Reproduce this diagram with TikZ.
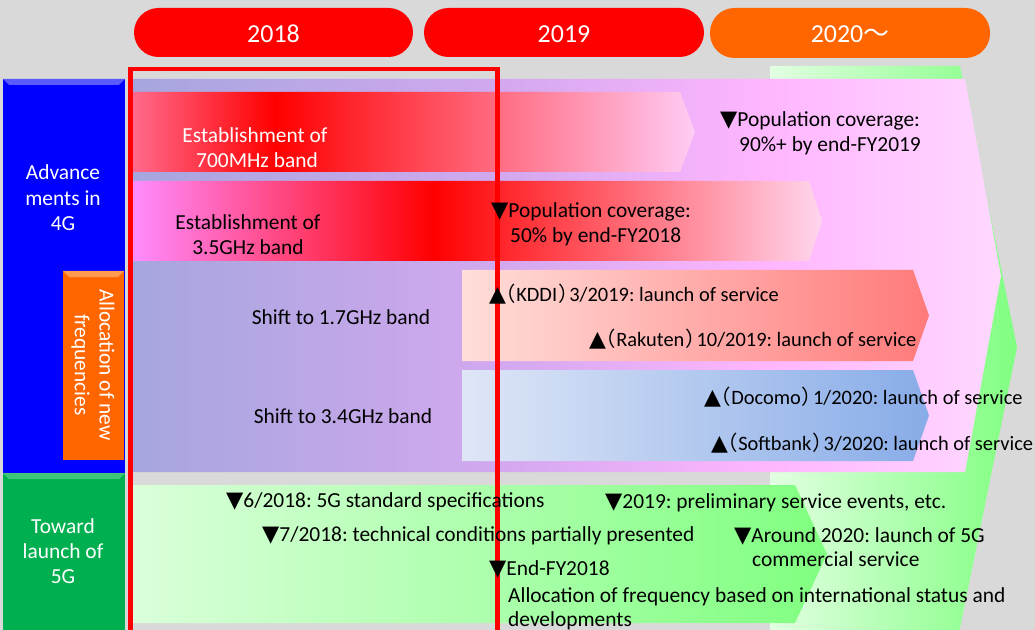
\documentclass[tikz,border=0pt]{standalone}
\usepackage{fontspec}
\setmainfont{Carlito}
\newfontfamily\symf{DejaVu Sans}
\newfontfamily\cjkf[RawFeature=+halt]{Noto Sans CJK JP}
\newcommand\dnt{{\symf\fontsize{22.5}{25}\selectfont ▼}}
\newcommand\upt{{\symf\fontsize{22}{25}\selectfont ▲}}
\newcommand\lp{{\cjkf （}}
\newcommand\rp{\kern1bp{\cjkf ）}\kern1bp}
\frenchspacing
\definecolor{bg}{HTML}{D9D9D9}
\definecolor{pillred}{HTML}{FF0000}
\definecolor{pillor}{HTML}{FF6600}
\definecolor{pk1}{HTML}{A6A6DE}
\definecolor{pk2}{HTML}{D2A8EE}
\definecolor{pk3}{HTML}{FFB6FF}
\definecolor{pk4}{HTML}{FFD8FF}
\definecolor{r1a}{HTML}{FF6A8C}
\definecolor{r1b}{HTML}{FF0000}
\definecolor{r1c}{HTML}{FFCCF4}
\definecolor{r2a}{HTML}{FF8CFF}
\definecolor{r2b}{HTML}{FF0000}
\definecolor{r2c}{HTML}{FFD6EE}
\definecolor{kd1}{HTML}{FFDEDA}
\definecolor{kd2}{HTML}{FF7A7A}
\definecolor{dc1}{HTML}{DEE6F6}
\definecolor{dc2}{HTML}{88ACE8}
\definecolor{g5a}{HTML}{DAFFDA}
\definecolor{g5b}{HTML}{80FF80}
\definecolor{gb1}{HTML}{E2FFE2}
\definecolor{gb2}{HTML}{80FF80}
\definecolor{bluebox}{HTML}{0000FF}
\definecolor{bluebev}{HTML}{5A5AFF}
\definecolor{greenbox}{HTML}{00B050}
\definecolor{greenbev}{HTML}{3CC878}
\definecolor{orbox}{HTML}{FF6600}
\definecolor{orbev}{HTML}{FF9A50}
\pgfdeclarehorizontalshading{pinkbig}{100bp}{color(0bp)=(pk1); color(25bp)=(pk1); color(46.1bp)=(pk2); color(61.7bp)=(pk3); color(75bp)=(pk4); color(100bp)=(pk4)}
\pgfdeclarehorizontalshading{rowone}{100bp}{color(0bp)=(r1a); color(25bp)=(r1a); color(37.6bp)=(r1b); color(75bp)=(r1c); color(100bp)=(r1c)}
\pgfdeclarehorizontalshading{rowtwo}{100bp}{color(0bp)=(r2a); color(25bp)=(r2a); color(46.8bp)=(r2b); color(75bp)=(r2c); color(100bp)=(r2c)}
\tikzset{
  lbl/.style={font=\fontsize{21.5}{25}\selectfont, inner sep=0pt, anchor=base},
  lblw/.style={lbl, text=white},
  lft/.style={lbl, anchor=base west},
  lftk/.style={lft, font=\fontsize{20.5}{25}\selectfont},
  yr/.style={font=\fontsize{26}{30}\selectfont, inner sep=0pt, anchor=base, text=white},
  pill/.style={rounded corners=24.5bp},
  redframe/.style={draw=red, line width=4.5bp},
}
\begin{document}
\frenchspacing
\begin{tikzpicture}[x=1bp,y=-1bp]
\useasboundingbox (0,0) rectangle (1035,630);
\begin{scope}
\clip (0,0) rectangle (1035,630);
\fill[bg] (0,0) rectangle (1035,630);
% year pills
\fill[pillred, pill] (134,8) rectangle (413,57);
\fill[pillred, pill] (424,8) rectangle (704,57);
\fill[pillor, pill] (710,8) rectangle (990,58);
% big green chevron
\shade[left color=gb1, right color=gb2] (770,66) -- (960,66) -- (1017,347) -- (959.6,630) -- (770,630) -- cycle;
% big pink chevron
\shade[shading=pinkbig] (133,79) -- (965,79) -- (1001,276) -- (965,472) -- (133,472) -- cycle;
% row arrows
\shade[shading=rowone] (133,92) -- (680,92) -- (695,132) -- (680,172) -- (133,172) -- cycle;
\shade[shading=rowtwo] (133,181) -- (809,181) -- (822,221) -- (809,261) -- (133,261) -- cycle;
\shade[left color=kd1, right color=kd2] (462,270) -- (913,270) -- (929,315.5) -- (913,361) -- (462,361) -- cycle;
\shade[left color=dc1, right color=dc2] (462,370) -- (913,370) -- (929,415.5) -- (913,461) -- (462,461) -- cycle;
\shade[left color=g5a, right color=g5b] (133,485) -- (795,485) -- (827,554) -- (795,623) -- (133,623) -- cycle;
% left boxes
\fill[bluebox] (3,79) rectangle (125,473);
\fill[bluebev] (3,79) -- (125,79) -- (119,85) -- (9,85) -- cycle;
\fill[greenbox] (3,473) rectangle (125,640);
\fill[greenbev] (3,473) -- (125,473) -- (119,479) -- (9,479) -- cycle;
\fill[orbox] (63,271) rectangle (124,460);
\fill[orbev] (63,271) -- (124,271) -- (118,277) -- (69,277) -- cycle;
% red frame
\draw[redframe] (130.5,640) -- (130.5,69) -- (497.5,69) -- (497.5,640);
\end{scope}
% year labels
\node[yr] (t2018) at (273.5,43) {2018};
\node[yr] (t2019) at (564,43) {2019};
\node[yr] (t2020) at (850,43) {2020{\cjkf ～}};
% left labels
\node[lblw] (a1) at (63,180) {Advance};
\node[lblw] (a2) at (63,206) {ments in};
\node[lblw] (a3) at (63,231) {4G};
\node[lblw] (g1) at (63,533) {Toward};
\node[lblw] (g2) at (63,558) {launch of};
\node[lblw] (g3) at (63,583) {5G};
\node[font=\fontsize{21.5}{25}\selectfont, text=white, inner sep=0pt, align=center, rotate=-90] (alloc) at (93,365) {Allocation of new\\frequencies};
% 4G rows
\node[lblw] (e1) at (255,143) {Establishment of};
\node[lblw] (e2) at (257,168) {700MHz band};
\node[lbl] (f1) at (248,230) {Establishment of};
\node[lbl] (f2) at (248,255) {3.5GHz band};
\node[lft] (p1) at (491,218) {\dnt Population coverage:};
\node[lft] (p2) at (510,243) {50\% by end-FY2018};
\node[lft] (q1) at (720,127) {\dnt Population coverage:};
\node[lft] (q2) at (739,152) {90\%+ by end-FY2019};
\node[lbl] (s1) at (341,324) {Shift to 1.7GHz band};
\node[lbl] (s2) at (343,423) {Shift to 3.4GHz band};
\node[lftk] (k1) at (489,302) {\upt\lp KDDI\rp 3/2019: launch of service};
\node[lftk] (k2) at (589,346) {\upt\lp Rakuten\rp 10/2019: launch of service};
\node[lftk] (k3) at (704,404) {\upt\lp Docomo\rp 1/2020: launch of service};
\node[lftk] (k4) at (711,450) {\upt\lp Softbank\rp 3/2020: launch of service};
% 5G row
\node[lft] (h1) at (226,507) {\dnt 6/2018: 5G standard specifications};
\node[lft] (h2) at (262,541) {\dnt 7/2018: technical conditions partially presented};
\node[lft] (h3) at (489,575) {\dnt End-FY2018};
\node[lft] (h4) at (508,602) {Allocation of frequency based on international status and};
\node[lft] (h5) at (508,626) {developments};
\node[lft] (h6) at (605,508) {\dnt 2019: preliminary service events, etc.};
\node[lft] (h7) at (734,542) {\dnt Around 2020: launch of 5G};
\node[lft] (h8) at (752,566) {commercial service};
\end{tikzpicture}
\end{document}
